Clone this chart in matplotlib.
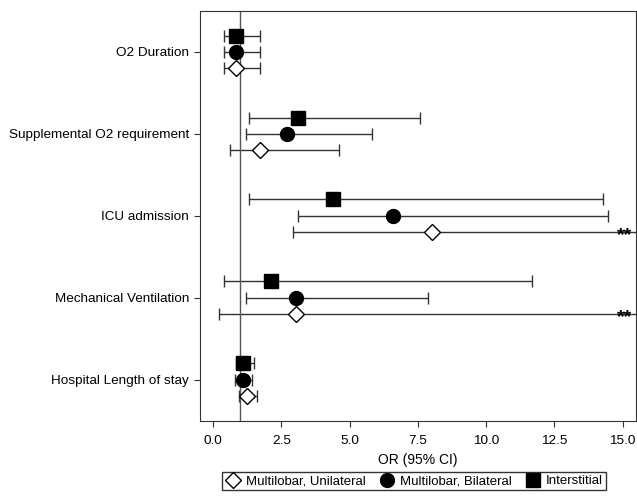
import numpy as np
import matplotlib.pyplot as plt

plt.rcParams['font.family'] = ['Liberation Sans', 'DejaVu Sans']

outcomes = ['O2 Duration', 'Supplemental O2 requirement', 'ICU admission',
            'Mechanical Ventilation', 'Hospital Length of stay']

# OR, lower CI, upper CI per group (order follows outcomes)
uni_or = [0.83, 1.72, 8.0, 3.03, 1.23]
uni_lo = [0.41, 0.62, 2.92, 0.22, 0.93]
uni_hi = [1.72, 4.6, 30.0, 30.0, 1.62]

bil_or = [0.83, 2.72, 6.6, 3.03, 1.1]
bil_lo = [0.41, 1.21, 3.12, 1.21, 0.8]
bil_hi = [1.72, 5.81, 14.48, 7.87, 1.41]

int_or = [0.83, 3.12, 4.4, 2.12, 1.11]
int_lo = [0.41, 1.33, 1.33, 0.41, 0.82]
int_hi = [1.72, 7.59, 14.28, 11.68, 1.51]

# which unilateral upper limits run off the chart
off_scale = [False, False, True, True, False]

fig = plt.figure(figsize=(6.37, 4.98), dpi=100)
ax = fig.add_axes([0.314, 0.155, 0.684, 0.823])

pos = np.arange(1, len(outcomes) + 1)
series = [
    (uni_or, uni_lo, uni_hi, 0.2, 'D', 'white', 'Multilobar, Unilateral', 8.5),
    (bil_or, bil_lo, bil_hi, 0.0, 'o', 'black', 'Multilobar, Bilateral', 10),
    (int_or, int_lo, int_hi, -0.2, 's', 'black', 'Interstitial', 9.5),
]
handles = []
for vals, lo, hi, off, mk, fc, lab, ms in series:
    vals = np.array(vals)
    err = [vals - np.array(lo), np.array(hi) - vals]
    ax.errorbar(vals, pos + off, xerr=err, fmt='none', ecolor='#333333',
                elinewidth=1, capsize=4, capthick=1)
    h, = ax.plot(vals, pos + off, linestyle='none', marker=mk, ms=ms,
                 mfc=fc, mec='black', mew=1, label=lab, zorder=3)
    handles.append(h)

for p, flag in zip(pos, off_scale):
    if flag:
        ax.text(14.8, p + 0.245, '**', fontsize=14, fontweight='bold',
                va='center', ha='left', clip_on=True)

ax.axvline(1.0, color='#555555', lw=1)

ax.set_xlim(-0.48, 15.48)
ax.set_ylim(5.5, 0.5)
ax.set_xticks(np.arange(0, 15.1, 2.5))
ax.set_xticklabels(['%.1f' % t for t in np.arange(0, 15.1, 2.5)], fontsize=9.7)
ax.set_yticks(pos)
ax.set_yticklabels(outcomes, fontsize=9.7)
ax.tick_params(length=4.5, color='#333333')
ax.tick_params(axis='x', pad=6)
ax.set_xlabel('OR (95% CI)', fontsize=10, labelpad=4)
for s in ax.spines.values():
    s.set_color('#333333')

fig.legend(handles=handles, loc='center', bbox_to_anchor=(0.65, 0.034),
           ncol=3, fontsize=9.5, frameon=True, fancybox=False, edgecolor='black',
           handletextpad=0.4, columnspacing=1.0, borderpad=0.25,
           handlelength=1.2, markerscale=1.0)

fig.savefig('out.png', dpi=100)
